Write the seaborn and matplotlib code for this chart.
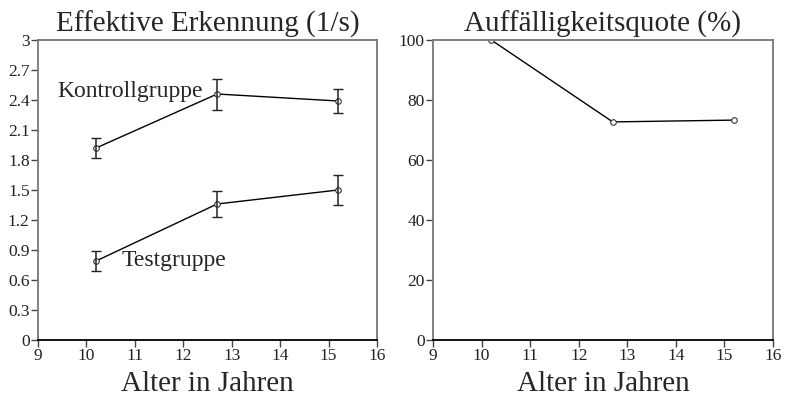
import matplotlib
matplotlib.use("Agg")
import matplotlib.pyplot as plt
import seaborn as sns
import pandas as pd

# Daten
alter = [10.2, 12.7, 15.2]
kontroll = [1.92, 2.46, 2.39]
kontroll_err = [0.10, 0.155, 0.12]
test = [0.79, 1.36, 1.50]
test_err = [0.10, 0.13, 0.15]
quote = [100.0, 72.7, 73.3]

sns.set_theme(style="white")
plt.rcParams['font.family'] = ['Liberation Serif', 'DejaVu Serif']

fig = plt.figure(figsize=(7.85, 3.99), dpi=100)
ax1 = fig.add_axes([0.0484, 0.148, 0.4318, 0.7517])
ax2 = fig.add_axes([0.5516, 0.148, 0.4331, 0.7517])

df = pd.DataFrame({'Alter': alter * 2,
                   'Wert': kontroll + test,
                   'Gruppe': ['Kontrollgruppe'] * 3 + ['Testgruppe'] * 3})

sns.lineplot(data=df, x='Alter', y='Wert', units='Gruppe', estimator=None,
             color='black', lw=1, marker='o', markersize=4,
             markerfacecolor='white', markeredgecolor='#333333',
             markeredgewidth=0.8, ax=ax1)
for y, e in [(kontroll, kontroll_err), (test, test_err)]:
    ax1.errorbar(alter, y, yerr=e, fmt='none', ecolor='#222222',
                 elinewidth=1.1, capsize=3.5, capthick=1)

ax1.text(9.39, 2.49, 'Kontrollgruppe', fontsize=17, va='center', ha='left')
ax1.text(10.72, 0.79, 'Testgruppe', fontsize=17, va='center', ha='left')

ax1.set_xlim(9, 16)
ax1.set_ylim(0, 3)
ax1.set_xticks(range(9, 17))
ax1.set_yticks([0, 0.3, 0.6, 0.9, 1.2, 1.5, 1.8, 2.1, 2.4, 2.7, 3])
ax1.set_yticklabels(['0', '0.3', '0.6', '0.9', '1.2', '1.5', '1.8', '2.1',
                     '2.4', '2.7', '3'])
ax1.set_title('Effektive Erkennung (1/s)', fontsize=21, pad=6)

df2 = pd.DataFrame({'Alter': alter, 'Quote': quote})
sns.lineplot(data=df2, x='Alter', y='Quote', color='black', lw=1,
             marker='o', markersize=4, markerfacecolor='white',
             markeredgecolor='#333333', markeredgewidth=0.8, ax=ax2)
ax2.set_xlim(9, 16)
ax2.set_ylim(0, 100)
ax2.set_xticks(range(9, 17))
ax2.set_yticks([0, 20, 40, 60, 80, 100])
ax2.set_title('Auffälligkeitsquote (%)', fontsize=21, pad=6)

for ax in (ax1, ax2):
    ax.set_xlabel('Alter in Jahren', fontsize=21, labelpad=5)
    ax.set_ylabel('')
    for s in ['top', 'right', 'left']:
        ax.spines[s].set_color('#777777')
        ax.spines[s].set_linewidth(1.3)
    ax.spines['bottom'].set_color('black')
    ax.spines['bottom'].set_linewidth(1.3)
    ax.tick_params(axis='both', direction='out', length=5, width=1,
                   color='#444444', labelsize=12.5, pad=1, labelcolor='#222222')
    ax.tick_params(axis='x', bottom=True)
    ax.tick_params(axis='y', left=True)
    ax.grid(False)

fig.savefig('out.png', dpi=100)
